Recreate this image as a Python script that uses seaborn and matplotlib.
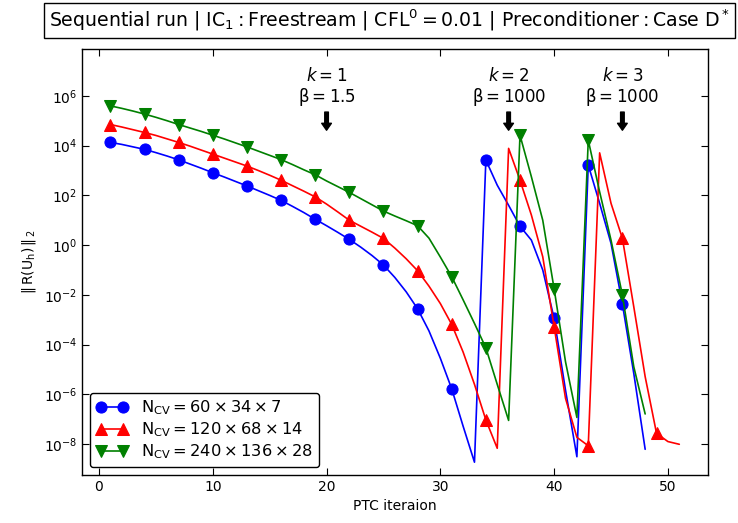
import numpy as np
import pandas as pd
import matplotlib
matplotlib.use("Agg")
import matplotlib.pyplot as plt
from matplotlib.ticker import FixedLocator, NullLocator
import seaborn as sns

# ---------------- data (log10 of residual norm) ----------------
iter_blue = list(range(1, 49))
log_blue = [4.13, 4.05, 3.95, 3.85, 3.72, 3.58, 3.43, 3.26, 3.09, 2.91,
            2.74, 2.56, 2.38, 2.19, 2.00, 1.80, 1.56, 1.31, 1.04, 0.78,
            0.51, 0.23, -0.08, -0.42, -0.80, -1.30, -1.88, -2.56, -3.45, -4.55,
            -5.78, -7.28, -8.73, 3.42, 2.41, 1.60, 0.76, 0.20, -1.00, -2.95,
            -5.83, -8.51, 3.22, 1.68, 0.07, -2.37, -5.16, -8.21]

iter_red = list(range(1, 52))
log_red = [4.85, 4.75, 4.64, 4.53, 4.41, 4.27, 4.13, 3.98, 3.82, 3.66,
           3.50, 3.34, 3.18, 3.00, 2.81, 2.61, 2.39, 2.17, 1.94, 1.65,
           1.33, 1.00, 0.76, 0.52, 0.27, -0.12, -0.55, -1.03, -1.65, -2.35,
           -3.19, -4.30, -5.60, -7.03, -8.17, 3.89, 2.61, 1.21, -0.47, -3.28,
           -6.16, -7.73, -8.07, 3.71, 1.68, 0.27, -2.48, -5.29, -7.57, -7.90,
           -8.01]

iter_green = list(range(1, 49))
log_green = [5.60, 5.50, 5.39, 5.27, 5.14, 5.00, 4.85, 4.71, 4.57, 4.42,
             4.27, 4.11, 3.95, 3.78, 3.61, 3.44, 3.24, 3.03, 2.83, 2.58,
             2.35, 2.12, 1.87, 1.62, 1.37, 1.17, 0.98, 0.78, 0.28, -0.48,
             -1.27, -2.20, -3.15, -4.13, -5.60, -7.05, 4.42, 2.75, 1.00, -1.76,
             -4.69, -6.93, 4.22, 2.14, 0.20, -2.01, -4.89, -6.79]

labels = [r"$\mathrm{N_{CV}} = 60 \times 34 \times 7$",
          r"$\mathrm{N_{CV}} = 120 \times 68 \times 14$",
          r"$\mathrm{N_{CV}} = 240 \times 136 \times 28$"]

ann_x = [20, 36, 46]
ann_k = ["1", "2", "3"]
ann_beta = ["1.5", "1000", "1000"]

yticks = [1e-8, 1e-6, 1e-4, 1e-2, 1e0, 1e2, 1e4, 1e6]

title = (r"Sequential run | $\mathrm{IC_1 : Freestream}$ | "
         r"$\mathrm{CFL^0 = 0.01}$ | $\mathrm{Preconditioner : Case\ D^*}$")

# ---------------- style ----------------
sns.set_style("ticks")
plt.rcParams.update({
    "font.family": ["DejaVu Sans"],
    "xtick.direction": "in",
    "ytick.direction": "in",
    "xtick.top": True,
    "ytick.right": True,
    "xtick.major.size": 5,
    "ytick.major.size": 5,
    "axes.edgecolor": "black",
    "axes.linewidth": 1.0,
    "xtick.color": "black",
    "ytick.color": "black",
    "text.color": "black",
    "axes.labelcolor": "black",
    "font.size": 10,
})

fig = plt.figure(figsize=(7.38, 5.23), dpi=100)
ax = fig.add_axes([0.111, 0.092, 0.848, 0.814])

series = [
    (iter_blue, log_blue, "blue", "o", labels[0]),
    (iter_red, log_red, "red", "^", labels[1]),
    (iter_green, log_green, "green", "v", labels[2]),
]
for xs, ls, col, mk, lab in series:
    df = pd.DataFrame({"it": xs, "res": np.power(10.0, ls)})
    sns.lineplot(data=df, x="it", y="res", ax=ax, color=col, marker=mk,
                 markevery=3, markersize=8, markeredgecolor=col,
                 linewidth=1.2, label=lab, sort=False, estimator=None)

ax.set_yscale("log")
ax.set_ylim(10 ** -9.24, 10 ** 7.88)
ax.set_xlim(-1.5, 53.5)
ax.yaxis.set_major_locator(FixedLocator(yticks))
ax.yaxis.set_minor_locator(NullLocator())
ax.xaxis.set_minor_locator(NullLocator())
for s in ax.spines.values():
    s.set_visible(True)
    s.set_color("black")

ax.set_xlabel("PTC iteraion", fontsize=10)
ax.set_ylabel(r"$\Vert\, \mathrm{R(U_h)} \,\Vert_{\,2}$", fontsize=10)

for xa, kk, bb in zip(ann_x, ann_k, ann_beta):
    ax.annotate("", xy=(xa, 10 ** 4.62), xytext=(xa, 10 ** 5.35),
                arrowprops=dict(facecolor="black", edgecolor="black",
                                width=2.6, headwidth=7, headlength=5, shrink=0))
    ax.text(xa, 10 ** 6.33, "$k = %s$\n" % kk + r"$\mathrm{\beta = %s}$" % bb,
            ha="center", va="center", fontsize=12, linespacing=1.05)

leg = ax.legend(loc="lower left", numpoints=2, fontsize=11.7, frameon=True,
                fancybox=True, edgecolor="black", framealpha=1,
                handlelength=2.0, borderpad=0.35, labelspacing=0.2)
leg.get_frame().set_linewidth(1.0)

ttl = ax.set_title(title, fontsize=13.6, pad=16,
                   bbox=dict(facecolor="white", edgecolor="black", boxstyle="square,pad=0.25"))
ttl.set_x(0.491)

fig.savefig("out.png", dpi=100)
